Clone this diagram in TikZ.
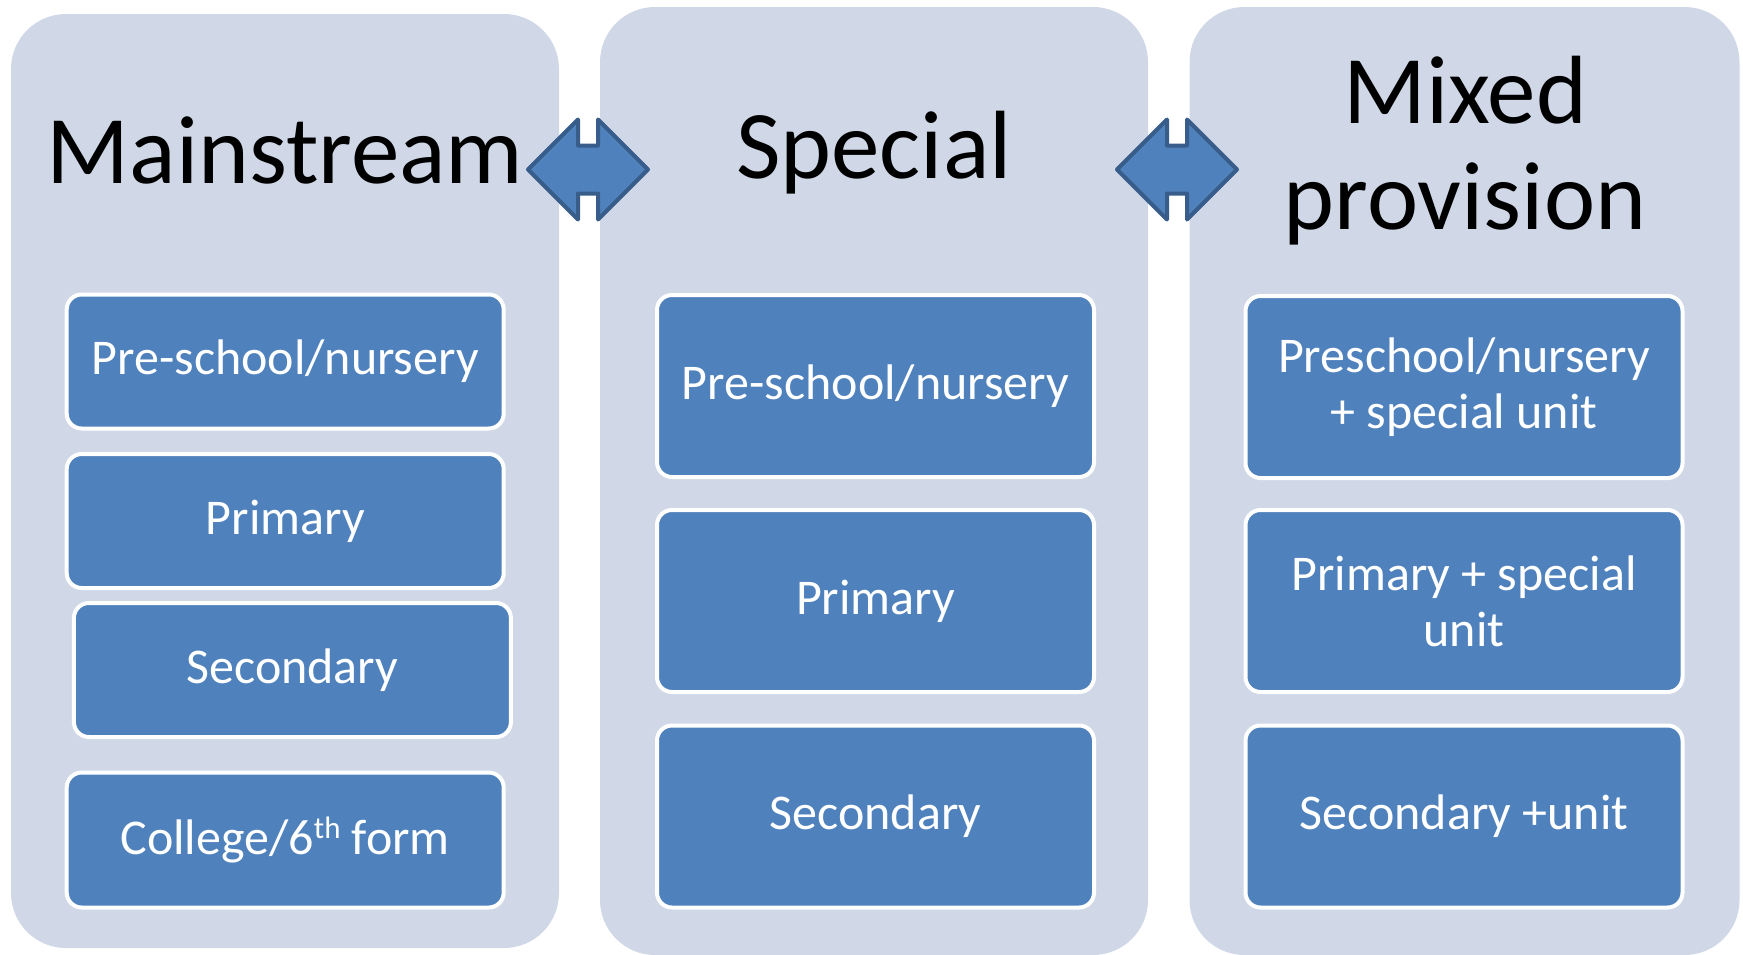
\documentclass[tikz,border=0pt]{standalone}
\usepackage{fontspec}
\setmainfont{Carlito}
\usetikzlibrary{calc}
\definecolor{panelbg}{HTML}{D0D8E8}
\definecolor{boxfill}{HTML}{4F81BD}
\definecolor{arrowline}{HTML}{385D8A}
\newcommand{\supth}{\raisebox{16pt}{\fontsize{31}{31}\selectfont th}}
\tikzset{
  panel/.style={rectangle, fill=panelbg, rounded corners=55pt, inner sep=0pt, outer sep=0pt},
  titletext/.style={font=\fontsize{97}{106}\selectfont, text=black, align=center, inner sep=0pt},
  itembox/.style={rectangle, fill=boxfill, draw=white, line width=4pt, rounded corners=15pt,
    text=white, font=\fontsize{50}{56}\selectfont, align=center, inner sep=0pt},
  boxA/.style={itembox, minimum width=437pt, minimum height=134pt},
  boxB/.style={itembox, minimum width=437pt, minimum height=182pt},
  dblarrow/.style={fill=boxfill, draw=arrowline, line width=4pt, line join=round}
}
\begin{document}
\begin{tikzpicture}[x=1pt,y=-1pt]
\useasboundingbox (0,0) rectangle (1743,954);
% panels
\node[panel, minimum width=548pt, minimum height=934pt] (p1) at (285,481) {};
\node[panel, minimum width=548pt, minimum height=948pt] (p2) at (874,481) {};
\node[panel, minimum width=550pt, minimum height=948pt] (p3) at (1464.5,481) {};
% titles
\node[titletext, anchor=base] (t1) at (285,183) {Mainstream};
\node[titletext, anchor=base] (t2) at (874,178) {Special};
\node[titletext] (t3) at (1465,151) {Mixed\\provision};
% column 1
\node[boxA] (m1) at (285.2,361.5) {Pre-school/nursery};
\node[boxA] (m2) at (285.2,521) {Primary};
\node[boxA] (m3) at (292.4,670) {Secondary};
\node[boxA, minimum height=135pt] (m4) at (285.2,840) {College/6\supth{} form};
% column 2
\node[boxB] (s1) at (875.5,386) {Pre-school/nursery};
\node[boxB] (s2) at (875.5,601) {Primary};
\node[boxB] (s3) at (875.5,816.5) {Secondary};
% column 3
\node[boxB] (x1) at (1464,387) {Preschool/nursery\\+ special unit};
\node[boxB] (x2) at (1464,601) {Primary + special\\unit};
\node[boxB] (x3) at (1464,816.5) {Secondary +unit};
% double arrows
\coordinate (a1) at (588,169.5);
\coordinate (a2) at (1177,169.5);
\foreach \c in {a1,a2}{
  \draw[dblarrow] ($(\c)+(-60,0)$) -- ++(50,-50) -- ++(0,26) -- ++(20,0) -- ++(0,-26)
    -- ++(50,50) -- ++(-50,50) -- ++(0,-26) -- ++(-20,0) -- ++(0,26) -- cycle;
}
\end{tikzpicture}
\end{document}
